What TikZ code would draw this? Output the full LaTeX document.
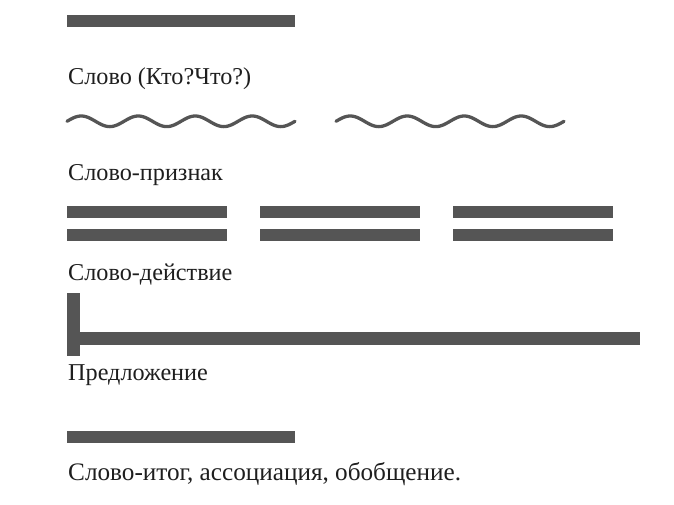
\documentclass[tikz,border=0pt]{standalone}
\usepackage{fontspec}
\setmainfont{Liberation Serif}
\definecolor{barcol}{HTML}{555555}
\definecolor{txtcol}{HTML}{1E1E1E}
\begin{document}
\begin{tikzpicture}[x=1pt,y=-1pt,
  bar/.style={fill=barcol,draw=none},
  wave/.style={draw=barcol,line width=3.3pt,line cap=round},
  lbl/.style={anchor=base west,inner sep=0pt,text=txtcol,font=\fontsize{24.2}{28}\selectfont}]
\useasboundingbox (0,0) rectangle (674,504);
% subject
\fill[bar] (67,14.5) rectangle (295,26.8);
\node[lbl] (subj) at (68,84) {Слово (Кто?Что?)};
% attribute (wavy)
\draw[wave] plot[domain=0:228,samples=240] ({67+\x},{121.3-5.3*sin(\x/57*360)});
\draw[wave] plot[domain=0:228,samples=240] ({336+\x},{121.3-5.3*sin(\x/57*360)});
\node[lbl] (attr) at (68,180) {Слово-признак};
% predicate (double)
\foreach \a/\b in {67/227,260/420,453/613}{
  \fill[bar] (\a,206) rectangle (\b,218.4);
  \fill[bar] (\a,228.6) rectangle (\b,241);
}
\node[lbl] (pred) at (68,280) {Слово-действие};
% sentence
\fill[bar] (67,292.5) rectangle (79.5,355.5);
\fill[bar] (79.5,332) rectangle (639.5,345);
\node[lbl] (sent) at (68,380) {Предложение};
% summary
\fill[bar] (67,430.5) rectangle (295,443);
\node[lbl,font=\fontsize{25.2}{29}\selectfont] (summ) at (68,480) {Слово-итог, ассоциация, обобщение.};
\end{tikzpicture}
\end{document}
